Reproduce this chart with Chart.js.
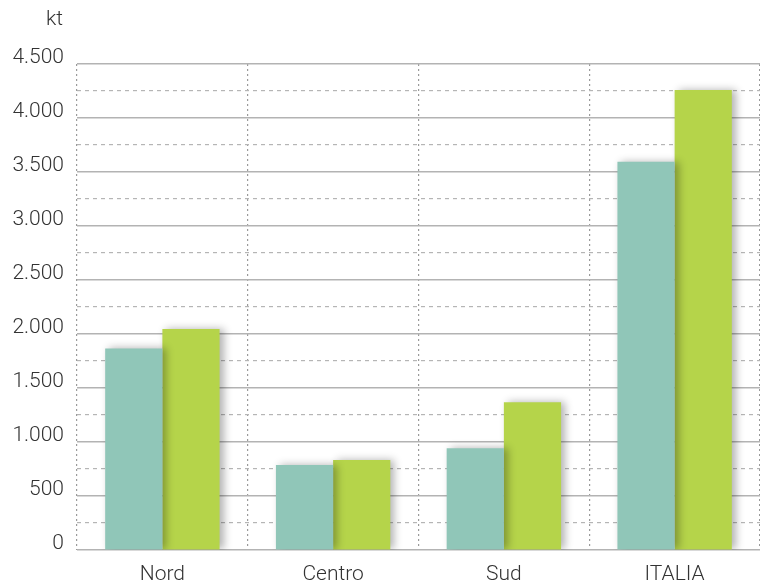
<!DOCTYPE html>
<html>
<head>
<meta charset="utf-8">
<script src="https://cdn.jsdelivr.net/npm/chart.js@4/dist/chart.umd.min.js"></script>
<style>
    html, body { margin: 0; padding: 0; background: #fff; }
    #wrap { width: 760px; height: 584px; }
</style>
</head>
<body>
<div id="wrap"><canvas id="chart" width="760" height="584"></canvas></div>
<script>
// data
const categories = ['Nord', 'Centro', 'Sud', 'ITALIA'];
const seriesA = [1866, 787, 942, 3595];
const seriesB = [2046, 833, 1367, 4259];
const yUnit = 'kt';

const COLORS = {
    teal: '#90c6b8',
    green: '#b5d44a',
    grid: '#b3b3b3',
    minor: '#b5b5b5',
    text: '#333333',
};

const FONT = { family: "'Roboto', 'Noto Sans', sans-serif", size: 21, weight: 300 };

const fmt = (v) => String(v).replace(/\B(?=(\d{3})+(?!\d))/g, '.');

// soft shadow to the right of each bar
const barShadow = {
    id: 'barShadow',
    beforeDatasetsDraw(chart) {
        const ctx = chart.ctx;
        ctx.save();
        ctx.shadowColor = 'rgba(0, 0, 0, 0.3)';
        ctx.shadowBlur = 8;
        ctx.shadowOffsetX = 4;
        ctx.shadowOffsetY = 0;
    },
    afterDatasetsDraw(chart) {
        chart.ctx.restore();
    },
};

// unit label above the y ticks
const unitLabel = {
    id: 'unitLabel',
    afterDraw(chart) {
        const ctx = chart.ctx;
        ctx.save();
        ctx.font = `${FONT.weight} ${FONT.size}px ${FONT.family}`;
        ctx.fillStyle = COLORS.text;
        ctx.textAlign = 'right';
        ctx.textBaseline = 'middle';
        ctx.fillText(yUnit, 63, 20);
        ctx.restore();
    },
};

new Chart(document.getElementById('chart'), {
    type: 'bar',
    data: {
        labels: categories,
        datasets: [
            { data: seriesA, backgroundColor: COLORS.teal },
            { data: seriesB, backgroundColor: COLORS.green },
        ],
    },
    options: {
        responsive: false,
        animation: false,
        layout: { padding: { top: 64, right: 0, left: 0, bottom: 0 } },
        datasets: { bar: { categoryPercentage: 0.67, barPercentage: 1.0, borderWidth: 0 } },
        plugins: { legend: { display: false }, tooltip: { enabled: false } },
        scales: {
            x: {
                grid: { color: '#9a9a9a', lineWidth: 1.2, drawTicks: false, offset: true },
                border: { display: false, dash: [2, 3] },
                ticks: { font: FONT, color: COLORS.text, padding: 12 },
                afterFit: (s) => { s.height = 34; },
            },
            yMinor: {
                position: 'left',
                min: 0,
                max: 4500,
                ticks: { display: false, stepSize: 250 },
                grid: {
                    drawTicks: false,
                    lineWidth: 1.2,
                    color: (c) => (c.tick && c.tick.value % 500 === 0 ? 'rgba(0,0,0,0)' : COLORS.minor),
                },
                border: { display: false, dash: [4, 4] },
                afterFit: (s) => { s.width = 0; },
            },
            y: {
                position: 'left',
                min: 0,
                max: 4500,
                ticks: {
                    stepSize: 500, font: FONT, color: COLORS.text, padding: 13,
                    labelOffset: -6, callback: (v) => fmt(v),
                },
                grid: { color: COLORS.grid, lineWidth: 1.6, drawTicks: false },
                border: { display: false },
                afterFit: (s) => { s.width = 77; },
            },
        },
    },
    plugins: [barShadow, unitLabel],
});
</script>
</body>
</html>
